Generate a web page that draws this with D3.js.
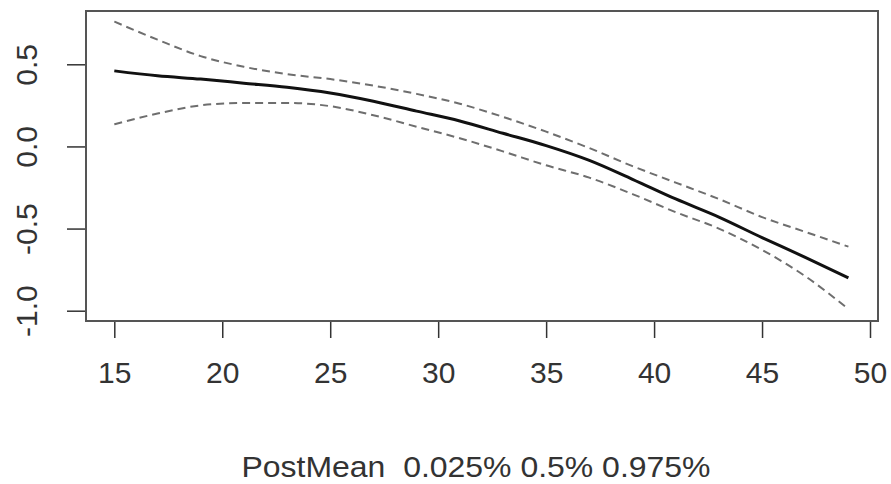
<!DOCTYPE html>
<html>
<head>
<meta charset="utf-8">
<script src="https://cdn.jsdelivr.net/npm/d3@7"></script>
<style>
    body { margin: 0; background: #fff; }
    svg text { font-family: "Liberation Sans", Arial, sans-serif; fill: #333; }
</style>
</head>
<body>
<div id="chartId"></div>
<script>
/*
Data
*/
const ages = [15, 17, 19, 21, 23, 25, 27, 29, 31, 33, 35, 37, 39, 41, 43, 45, 47, 49];
const postMean = [0.46, 0.43, 0.41, 0.385, 0.36, 0.325, 0.275, 0.215, 0.155, 0.08, 0.005, -0.085, -0.20, -0.32, -0.43, -0.555, -0.675, -0.80];
const upper = [0.76, 0.65, 0.55, 0.485, 0.44, 0.41, 0.37, 0.32, 0.26, 0.18, 0.09, -0.01, -0.12, -0.22, -0.32, -0.43, -0.52, -0.61];
const lower = [0.135, 0.20, 0.25, 0.265, 0.265, 0.245, 0.19, 0.12, 0.05, -0.03, -0.115, -0.19, -0.29, -0.40, -0.50, -0.63, -0.79, -0.99];
const xTicks = [15, 20, 25, 30, 35, 40, 45, 50];
const yTicks = [-1.0, -0.5, 0.0, 0.5];
const caption = "PostMean  0.025% 0.5% 0.975%";

const width = 891, height = 484;
const box = { left: 86, right: 878, top: 11, bottom: 321 };

const svg = d3.select("#chartId")
    .append("svg")
    .attr("width", width)
    .attr("height", height);

const x = d3.scaleLinear().domain([15, 50]).range([114.3, 870]);
const y = d3.scaleLinear().domain([-1, 0.5]).range([310.7, 64.3]);

/*
Axes
*/
const gx = svg.append("g")
    .attr("transform", `translate(0,${box.bottom})`)
    .call(d3.axisBottom(x).tickValues(xTicks).tickSize(17).tickPadding(24).tickFormat(d3.format("d")));

const gy = svg.append("g")
    .attr("transform", `translate(${box.left},0)`)
    .call(d3.axisLeft(y).tickValues(yTicks).tickSize(19).tickFormat(d3.format(".1f")));

[gx, gy].forEach(g => {
    g.select(".domain").remove();
    g.selectAll(".tick line").attr("stroke", "#333").attr("stroke-width", 1.5);
    g.selectAll(".tick text").attr("font-size", 30).attr("fill", "#333");
});

// y labels are rotated like R's default las=0
gy.selectAll(".tick text")
    .attr("x", null)
    .attr("dy", null)
    .attr("text-anchor", "middle")
    .attr("transform", `translate(${37 - box.left},0) rotate(-90)`)
    .text(d => d3.format(".1f")(d).replace("−", "-"));

/*
Lines
*/
const line = vals => d3.line()
    .x((d, i) => x(ages[i]))
    .y(d => y(d))
    .curve(d3.curveMonotoneX)(vals);

svg.append("path")
    .attr("d", line(upper))
    .attr("fill", "none")
    .attr("stroke", "#6e6e6e")
    .attr("stroke-width", 2)
    .attr("stroke-dasharray", "8,5");

svg.append("path")
    .attr("d", line(lower))
    .attr("fill", "none")
    .attr("stroke", "#6e6e6e")
    .attr("stroke-width", 2)
    .attr("stroke-dasharray", "8,5");

svg.append("path")
    .attr("d", line(postMean))
    .attr("fill", "none")
    .attr("stroke", "#111")
    .attr("stroke-width", 3);

// plot frame
svg.append("rect")
    .attr("x", box.left)
    .attr("y", box.top)
    .attr("width", box.right - box.left)
    .attr("height", box.bottom - box.top)
    .attr("fill", "none")
    .attr("stroke", "#555")
    .attr("stroke-width", 2);

svg.append("text")
    .attr("x", 476)
    .attr("y", 477)
    .attr("text-anchor", "middle")
    .attr("font-size", 30)
    .attr("textLength", 469)
    .attr("lengthAdjust", "spacingAndGlyphs")
    .style("white-space", "pre")
    .text(caption);
</script>
</body>
</html>
